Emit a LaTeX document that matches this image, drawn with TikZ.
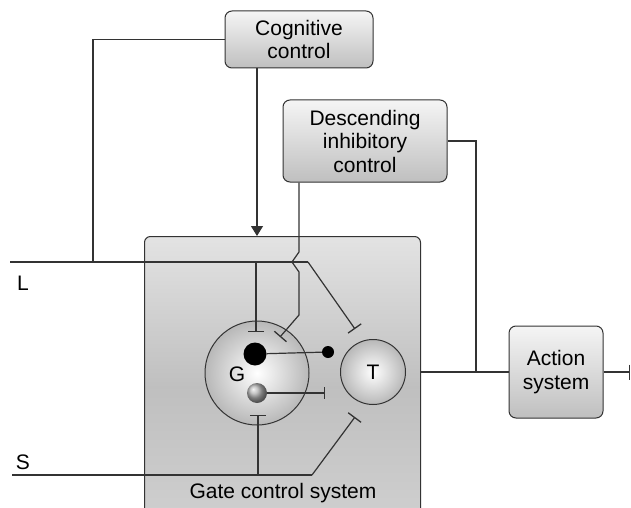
\documentclass[tikz,border=0pt]{standalone}
\usepackage{fontspec}
\setmainfont{Liberation Sans}
\usetikzlibrary{arrows.meta,positioning,shadings}
\definecolor{linegray}{HTML}{333333}

\begin{document}
\begin{tikzpicture}[x=1pt,y=-1pt,
			ctrl/.style={draw=linegray,line width=1pt,rounded corners=7pt,top color=black!4,bottom color=black!25,align=center,font=\fontsize{21}{23.5}\selectfont,inner sep=0pt},
			gatebox/.style={draw=linegray,line width=1pt,rounded corners=6pt,left color=black!11,right color=black!18,middle color=black!25,shading angle=0},
			cell/.style={circle,draw=linegray,line width=1pt,inner color=white,outer color=black!28},
			lab/.style={font=\fontsize{21}{23.5}\selectfont},
			wire/.style={linegray,line width=1.2pt},
			inh/.style={wire,-{Bar[width=16pt,line width=1.3pt]}},
			arr/.style={wire,-{Triangle[width=12pt,length=10pt]}}
			]
			\clip (0,0) rectangle (631,508);
			\fill[white] (0,0) rectangle (631,508);
			% boxes
			\node[gatebox,minimum width=276,minimum height=300,anchor=north west] (gate) at (144,236) {};
			\node[ctrl,minimum width=148,minimum height=57] (cog) at (299,39.5) {Cognitive\\control};
			\node[ctrl,minimum width=164,minimum height=82] (desc) at (365,141) {Descending\\inhibitory\\control};
			\node[ctrl,minimum width=94,minimum height=92] (act) at (556,372) {Action\\system};
			% cells
			\node[cell,minimum size=104] (G) at (257,373) {};
			\node[cell,minimum size=65,lab] (T) at (373,372) {T};
			\node[lab] at (237,374) {G};
			\node[circle,fill=black,minimum size=23,inner sep=0pt] (bdot) at (255,354) {};
			\node[circle,ball color=black!30,minimum size=20,inner sep=0pt] (gdot) at (257,393) {};
			\node[circle,fill=black,minimum size=12,inner sep=0pt] (sdot) at (328,352) {};
			\coordinate (gbar) at (325,393);
			\node[lab] at (283,493) {Gate control system};
			\node[lab] at (23,283) {L};
			\node[lab] at (23,462) {S};
			% inputs
			\coordinate (Lin) at (10,262);
			\coordinate (Sin) at (12,475);
			\draw[wire] (Lin) -- (308,262);
			\draw[inh] (308,262) -- (355,329);
			\draw[inh] (256,262) -- (256,332);
			\draw[wire] (Sin) -- (312,475);
			\draw[inh] (312,475) -- (355,417);
			\draw[inh] (258,475) -- (258,415);
			% controls
			\draw[wire] (cog.west) -| (93,262);
			\draw[arr] ([xshift=-42pt]cog.south) -- ([xshift=-42pt]cog.south |- gate.north);
			\draw[inh] ([xshift=-66pt]desc.south) -- (299,252) -- (292,262) -- (299,272) -- (299,315) -- (280,337);
			\draw[wire] (desc.east) -| (476,372);
			% inside gate
			\draw[wire] (bdot) -- (sdot);
			\draw[wire,-{Bar[width=12pt,line width=1.3pt]}] (gdot) -- (gbar);
			% output
			\draw[wire] (T.east -| gate.east) -- (act.west);
			\draw[wire,-{Bar[width=15pt,line width=1pt]}] (act.east) -- (630,372);
		\end{tikzpicture}
\end{document}
